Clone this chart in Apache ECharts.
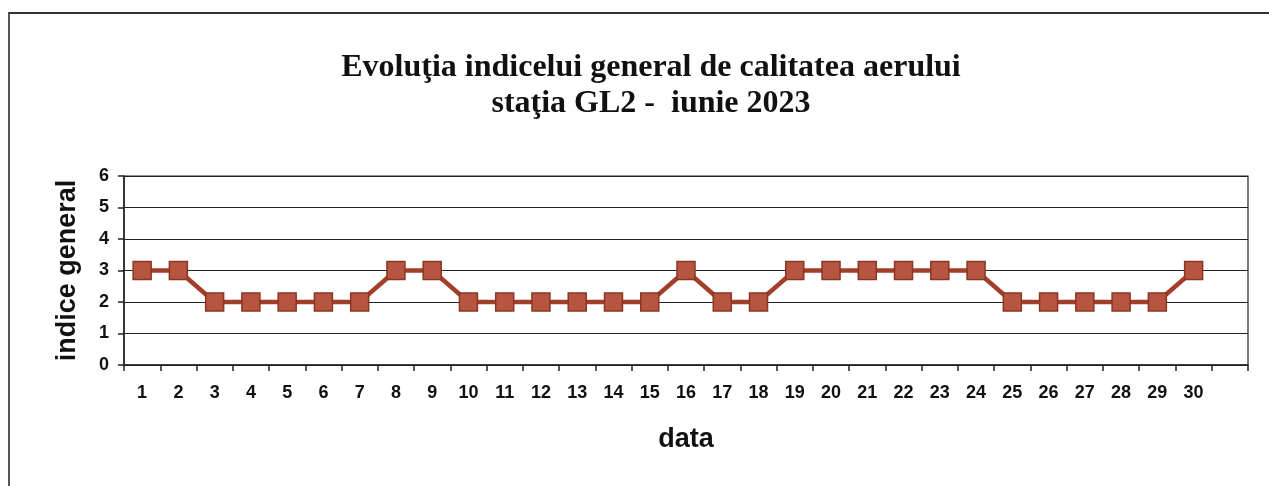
<!DOCTYPE html>
<html>
<head>
<meta charset="utf-8">
<script src="https://cdn.jsdelivr.net/npm/echarts@6/dist/echarts.min.js"></script>
<style>
html,body{margin:0;padding:0;background:#fff;}
#frame{position:absolute;left:8px;top:12px;width:1261px;height:474px;border-top:2px solid #333;border-left:2px solid #555;box-sizing:border-box;}
#chart{position:absolute;left:0;top:0;width:1269px;height:486px;}
</style>
</head>
<body>
<div id="frame"></div>
<div id="chart"></div>
<script>
const categories = ['1','2','3','4','5','6','7','8','9','10','11','12','13','14','15','16','17','18','19','20','21','22','23','24','25','26','27','28','29','30',''];
const indiceGeneral = [3,3,2,2,2,2,2,3,3,2,2,2,2,2,2,3,2,2,3,3,3,3,3,3,2,2,2,2,2,3];
const yTicks = [0,1,2,3,4,5,6];

const chart = echarts.init(document.getElementById('chart'), null, {renderer:'canvas'});
chart.setOption({
  backgroundColor: 'transparent',
  animation: false,
  title: {
    text: 'Evoluţia indicelui general de calitatea aerului\nstaţia GL2 -  iunie 2023',
    left: 646, top: 45, textAlign: 'center',
    textStyle: {fontFamily: 'Liberation Serif', fontWeight: 'bold', fontSize: 32, color: '#111', lineHeight: 36}
  },
  grid: {left: 124, right: 21, top: 176, bottom: 121, show: true, borderColor: '#222', borderWidth: 1.2},
  xAxis: {
    type: 'category', data: categories, boundaryGap: true,
    name: 'data', nameLocation: 'middle', nameGap: 61,
    nameTextStyle: {fontFamily: 'Liberation Sans', fontWeight: 'bold', fontSize: 27, color: '#111'},
    axisLine: {lineStyle: {color: '#222', width: 1.5}},
    axisTick: {show: true, length: 6, inside: false, alignWithLabel: false, lineStyle: {color: '#222', width: 1.5}},
    axisLabel: {fontFamily: 'Liberation Sans', fontWeight: 'bold', fontSize: 18, color: '#111', margin: 19, interval: 0},
    splitLine: {show: false}
  },
  yAxis: {
    type: 'value', min: 0, max: 6, interval: 1,
    name: 'indice general', nameLocation: 'middle', nameGap: 43, nameRotate: 90,
    nameTextStyle: {fontFamily: 'Liberation Sans', fontWeight: 'bold', fontSize: 27, color: '#111'},
    axisLine: {show: true, lineStyle: {color: '#222', width: 1.5}},
    axisTick: {show: true, length: 6, lineStyle: {color: '#222', width: 1.5}},
    axisLabel: {fontFamily: 'Liberation Sans', fontWeight: 'bold', fontSize: 18, color: '#111', margin: 15,
      formatter: v => yTicks.includes(v) ? String(v) : ''},
    splitLine: {show: true, lineStyle: {color: '#222', width: 1.2}}
  },
  series: [{
    type: 'line', data: indiceGeneral,
    symbol: 'rect', symbolSize: 18,
    lineStyle: {color: '#a13f2a', width: 4.5},
    itemStyle: {color: '#b65540', borderColor: '#8c3523', borderWidth: 1.5},
    z: 3
  }]
});
</script>
</body>
</html>
